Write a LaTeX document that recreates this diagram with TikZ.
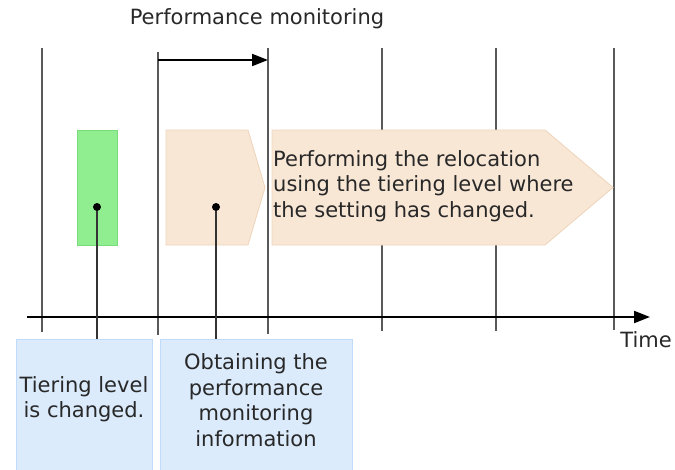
\documentclass[tikz,border=0pt]{standalone}
\usepackage{fontspec}
\setmainfont{DejaVu Sans}
\usepackage{tikz}
\usetikzlibrary{arrows.meta, positioning, calc}
\usepackage{xcolor}
\definecolor{textgray}{RGB}{40,40,40}
\definecolor{greenfill}{RGB}{144,238,144}
\definecolor{greenedge}{RGB}{120,220,120}
\definecolor{peachfill}{RGB}{249,231,214}
\definecolor{peachedge}{RGB}{238,212,186}
\definecolor{bluefill}{RGB}{219,235,252}
\definecolor{blueedge}{RGB}{192,220,250}
\tikzstyle{timeline} = [line width=2pt, draw=black!65]
\tikzstyle{phasebox} = [fill=peachfill, draw=peachedge, line width=0.8pt]
\tikzstyle{notebox} = [rectangle, fill=bluefill, draw=blueedge, line width=0.8pt, anchor=north]
\tikzstyle{dotmark} = [circle, fill=black, inner sep=0pt, minimum size=8pt]
\tikzstyle{arrow} = [line width=2pt, -{Triangle[length=16pt,width=12pt]}]

\begin{document}
\begin{tikzpicture}[x=1pt, y=-1pt, every node/.style={font=\fontsize{21}{25.5}\selectfont, text=textgray}]
  \useasboundingbox (0,0) rectangle (675,469);
  % Time grid
  \draw[timeline] (42,48) -- (42,332);
  \draw[timeline] (158,52) -- (158,335);
  \draw[timeline] (268,48) -- (268,334);
  \draw[timeline] (382,48) -- (382,331);
  \draw[timeline] (496,48) -- (496,331);
  \draw[timeline] (614,48) -- (614,330);

  % Monitoring period
  \node (mon) at (257,19) {Performance monitoring};
  \coordinate (monstart) at (158,60);
  \coordinate (monend) at (268,60);
  \draw[arrow] (monstart) -- (monend);

  % Events
  \node[rectangle, fill=greenfill, draw=greenedge, line width=0.8pt, minimum width=40, minimum height=115] (change) at (97,187.5) {};
  \filldraw[phasebox] (166,130) -- (248,130) -- (265,187.5) -- (248,245) -- (166,245) -- cycle;
  \filldraw[phasebox] (272,130) -- (545,130) -- (613,187.5) -- (545,245) -- (272,245) -- cycle;
  \node[align=left, anchor=west, inner sep=1pt] (reloc) at (272,186) {Performing the relocation\\using the tiering level where\\the setting has changed.};

  % Time axis
  \coordinate (axstart) at (27,317);
  \coordinate (axend) at (650,317);
  \draw[arrow, draw=black] (axstart) -- (axend);
  \node (time) at (646,340) {Time};

  % Notes
  \node[notebox, minimum width=136, minimum height=136] (tierbox) at (84,339) {};
  \node[align=center] (tiertext) at (84,399) {Tiering level\\is changed.};
  \node[notebox, minimum width=192, minimum height=136] (obtbox) at (256,339) {};
  \node[align=center] (obttext) at (256,400) {Obtaining the\\performance\\monitoring\\information};

  % Pointers
  \node[dotmark] (d1) at (97,207) {};
  \node[dotmark] (d2) at (216,207) {};
  \draw[line width=2pt, black!80] (d1) -- (d1 |- tierbox.north);
  \draw[line width=2pt, black!80] (d2) -- (d2 |- obtbox.north);
\end{tikzpicture}
\end{document}
